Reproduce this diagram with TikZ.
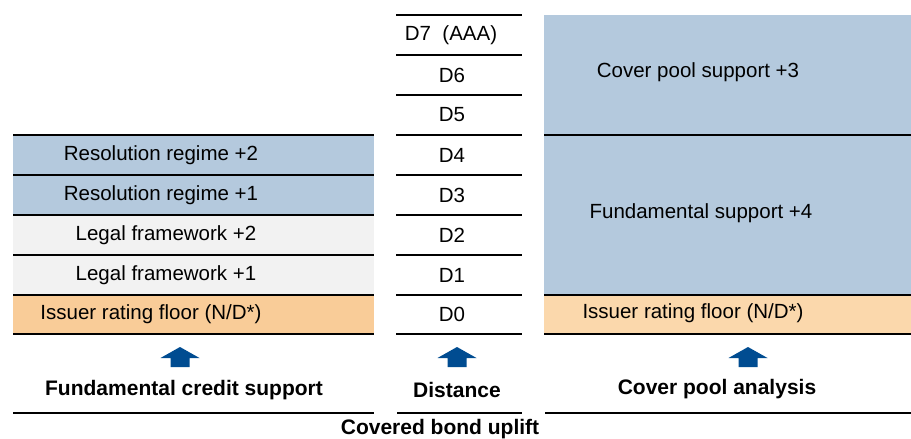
\documentclass[tikz,border=0pt]{standalone}
\usepackage{fontspec}
\setmainfont{Liberation Sans}
\definecolor{cellblue}{RGB}{180,201,221}
\definecolor{cellgrey}{RGB}{242,242,242}
\definecolor{floororange}{RGB}{249,204,152}
\definecolor{floorpeach}{RGB}{251,216,172}
\definecolor{arrowblue}{RGB}{0,76,145}
\begin{document}
\begin{tikzpicture}[x=0.5pt, y=-0.5pt,
  cell/.style={rectangle, inner sep=0pt, outer sep=0pt, minimum height=20pt},
  lcell/.style={cell, minimum width=180.5pt},
  dcell/.style={cell, minimum width=63pt},
  rcell/.style={cell, minimum width=183.5pt},
  txt/.style={inner sep=0pt, font=\fontsize{10.25}{12}\selectfont},
  lbl/.style={inner sep=0pt, font=\fontsize{10.5}{12}\selectfont\bfseries},
  rule/.style={line width=1pt},
  uparrow/.style={fill=arrowblue}]
\useasboundingbox (0,0) rectangle (911,439);
\node[lcell, fill=cellblue] (lid0) at (193.5,155){};
\node[lcell, fill=cellblue] (lid1) at (193.5,195){};
\node[lcell, fill=cellgrey] (lid2) at (193.5,235){};
\node[lcell, fill=cellgrey] (lid3) at (193.5,275){};
\node[lcell, fill=floororange, minimum height=19.5pt] (lid4) at (193.5,314.5){};
\node[txt] (ltx0) at (161,155){Resolution regime +2};
\node[txt] (ltx1) at (161,195){Resolution regime +1};
\node[txt] (ltx2) at (166,235){Legal framework +2};
\node[txt] (ltx3) at (166,275){Legal framework +1};
\node[txt] (ltx4) at (151,314){Issuer rating floor (N/D*)};
\draw[rule](lid0.north west) -- (lid0.north east);
\draw[rule](lid1.north west) -- (lid1.north east);
\draw[rule](lid2.north west) -- (lid2.north east);
\draw[rule](lid3.north west) -- (lid3.north east);
\draw[rule](lid4.north west) -- (lid4.north east);
\draw[rule](lid4.south west) -- (lid4.south east);
\node[dcell] (did7) at (459,35){};
\node[dcell] (did6) at (459,75){};
\node[dcell] (did5) at (459,115){};
\node[dcell] (did4) at (459,155){};
\node[dcell] (did3) at (459,195){};
\node[dcell] (did2) at (459,235){};
\node[dcell] (did1) at (459,275){};
\node[dcell, minimum height=19.5pt] (did0) at (459,314.5){};
\node[txt] (dtx7) at (451,35){D7~~(AAA)};
\node[txt] (dtx6) at (452,75){D6};
\node[txt] (dtx5) at (452,115){D5};
\node[txt] (dtx4) at (452,155){D4};
\node[txt] (dtx3) at (452,195){D3};
\node[txt] (dtx2) at (452,235){D2};
\node[txt] (dtx1) at (452,275){D1};
\node[txt] (dtx0) at (452,314){D0};
\draw[rule](did7.north west) -- (did7.north east);
\draw[rule](did6.north west) -- (did6.north east);
\draw[rule](did5.north west) -- (did5.north east);
\draw[rule](did4.north west) -- (did4.north east);
\draw[rule](did3.north west) -- (did3.north east);
\draw[rule](did2.north west) -- (did2.north east);
\draw[rule](did1.north west) -- (did1.north east);
\draw[rule](did0.north west) -- (did0.north east);
\draw[rule](did0.south west) -- (did0.south east);
\node[rcell, fill=cellblue, minimum height=60pt] (rid0) at (727.5,75){};
\node[rcell, fill=cellblue, minimum height=80pt] (rid1) at (727.5,215){};
\node[rcell, fill=floorpeach, minimum height=19.5pt] (rid2) at (727.5,314.5){};
\node[txt] (rtx0) at (698,72){Cover pool support +3};
\node[txt] (rtx1) at (701,213){Fundamental support +4};
\node[txt] (rtx2) at (693,313){Issuer rating floor (N/D*)};
\draw[rule](rid1.north west) -- (rid1.north east);
\draw[rule](rid2.north west) -- (rid2.north east);
\draw[rule](rid2.south west) -- (rid2.south east);
\coordinate (aid0) at (180,347);
\coordinate (aid1) at (457,347);
\coordinate (aid2) at (748,347);
\fill[uparrow] (aid0) -- ++(19.5,11) -- ++(-10,0) -- ++(0,9) -- ++(-19,0) -- ++(0,-9) -- ++(-10,0) -- cycle;
\fill[uparrow] (aid1) -- ++(19.5,11) -- ++(-10,0) -- ++(0,9) -- ++(-19,0) -- ++(0,-9) -- ++(-10,0) -- cycle;
\fill[uparrow] (aid2) -- ++(19.5,11) -- ++(-10,0) -- ++(0,9) -- ++(-19,0) -- ++(0,-9) -- ++(-10,0) -- cycle;
\node[lbl] (bid0) at (184,390){Fundamental credit support};
\node[lbl] (bid1) at (457,390){Distance};
\node[lbl] (bid2) at (717,389){Cover pool analysis};
\coordinate (bl0) at (13,413);
\coordinate (br0) at (374,413);
\coordinate (bl1) at (397,413);
\coordinate (br1) at (522,413);
\coordinate (bl2) at (545,413);
\coordinate (br2) at (911,413);
\draw[rule](bl0) -- (br0);
\draw[rule](bl1) -- (br1);
\draw[rule](bl2) -- (br2);
\node[lbl] (uid0) at (440,429){Covered bond uplift};
\end{tikzpicture}
\end{document}
